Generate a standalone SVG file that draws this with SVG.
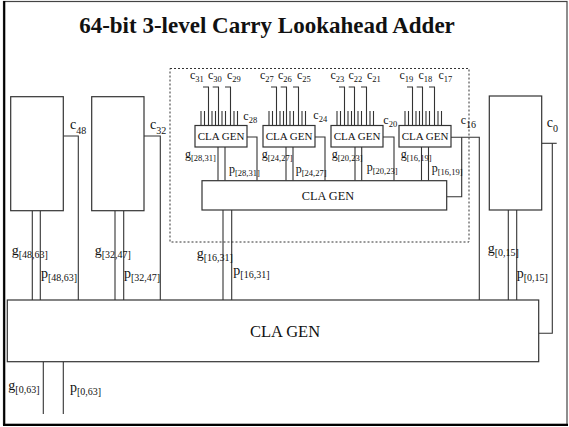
<svg xmlns="http://www.w3.org/2000/svg" width="569" height="427" viewBox="0 0 569 427">
<style>
.ln{stroke:#333;stroke-width:1.1;fill:none}
.box{fill:#fff;stroke:#333;stroke-width:1.2}
.dot{fill:none;stroke:#333;stroke-width:1;stroke-dasharray:2,2}
.t{font-family:"Liberation Serif","Times New Roman",serif;fill:#111}
.lg{font-size:14px}
.sm{font-size:12px}
.s10{font-size:10px}
.s8{font-size:8.5px}
</style>
<rect x="0" y="0" width="569" height="427" fill="#fff"/>
<g id="frame">
<rect x="3.5" y="1.5" width="563.5" height="423" fill="none" stroke="#444" stroke-width="1.2"/>
<line x1="4.3" y1="1" x2="4.3" y2="426" stroke="#000" stroke-width="2"/>
<line x1="3" y1="424.8" x2="568" y2="424.8" stroke="#000" stroke-width="2.2"/>
</g>
<text class="t" x="267" y="33" font-size="23" font-weight="bold" text-anchor="middle">64-bit 3-level Carry Lookahead Adder</text>

<g id="group16-31">
<rect class="dot" x="170" y="68.5" width="299" height="173.5"/>
</g>

<g id="connectors" class="ln">
<!-- block 48-63 -->
<line x1="32.3" y1="210.7" x2="32.3" y2="300"/>
<line x1="40.3" y1="210.7" x2="40.3" y2="300"/>
<polyline points="63.3,136 78.3,136 78.3,300"/>
<!-- block 32-47 -->
<line x1="115" y1="210.7" x2="115" y2="300"/>
<line x1="123.7" y1="210.7" x2="123.7" y2="300"/>
<polyline points="144,136 160.3,136 160.3,300"/>
<!-- block 0-15 -->
<line x1="508.3" y1="210" x2="508.3" y2="300"/>
<line x1="516.7" y1="210" x2="516.7" y2="300"/>
<line x1="541.7" y1="143.3" x2="556.7" y2="143.3"/>
<polyline points="552.3,143.3 552.3,333.3 538.7,333.3"/>
<!-- mid CLA GEN outputs -->
<line x1="223" y1="210" x2="223" y2="300"/>
<line x1="231.7" y1="210" x2="231.7" y2="300"/>
<!-- c16 -->
<polyline points="451,137.3 479.3,137.3 479.3,300"/>
<polyline points="461.7,137.3 461.7,196.7 446.7,196.7"/>
<!-- big CLA GEN outputs -->
<line x1="43.3" y1="361.7" x2="43.3" y2="414"/>
<line x1="63.3" y1="361.7" x2="63.3" y2="414"/>
<!-- small box outputs -->
<line x1="218" y1="147" x2="218" y2="180.7"/>
<line x1="225" y1="147" x2="225" y2="180.7"/>
<polyline points="247,137 257,137 257,180.7"/>
<line x1="286" y1="147" x2="286" y2="180.7"/>
<line x1="293" y1="147" x2="293" y2="180.7"/>
<polyline points="315,137 325,137 325,180.7"/>
<line x1="355" y1="147" x2="355" y2="180.7"/>
<line x1="361.7" y1="147" x2="361.7" y2="180.7"/>
<polyline points="383,137 394,137 394,180.7"/>
<line x1="421.5" y1="147" x2="421.5" y2="180.7"/>
<line x1="428.5" y1="147" x2="428.5" y2="180.7"/>
<!-- small box inputs: box1 x=195 -->
<path d="M201,111V125.5M204.5,111V125.5M212,111V125.5M215.5,111V125.5M222,111V125.5M225.5,111V125.5M234,111V125.5M237.5,111V125.5"/>
<path d="M203,87H208.5V125.5M212.7,87H218.5V125.5M225,87H230.5V125.5"/>
<!-- box2 x=263 -->
<path d="M269,111V125.5M272.5,111V125.5M280,111V125.5M283.5,111V125.5M290,111V125.5M293.5,111V125.5M302,111V125.5M305.5,111V125.5"/>
<path d="M271,87H276.5V125.5M280.7,87H286.5V125.5M293,87H298.5V125.5"/>
<!-- box3 x=331 -->
<path d="M337,111V125.5M340.5,111V125.5M348,111V125.5M351.5,111V125.5M358,111V125.5M361.5,111V125.5M370,111V125.5M373.5,111V125.5"/>
<path d="M339,87H344.5V125.5M348.7,87H354.5V125.5M361,87H366.5V125.5"/>
<!-- box4 x=399 -->
<path d="M405,111V125.5M408.5,111V125.5M416,111V125.5M419.5,111V125.5M426,111V125.5M429.5,111V125.5M438,111V125.5M441.5,111V125.5"/>
<path d="M407,87H412.5V125.5M416.7,87H422.5V125.5M429,87H434.5V125.5"/>
</g>

<g id="cla48">
<rect class="box" x="10.7" y="96.7" width="52.6" height="114"/>
</g>
<g id="cla32">
<rect class="box" x="91.7" y="96.7" width="52.3" height="114"/>
</g>
<g id="cla0">
<rect class="box" x="489.3" y="96" width="52.4" height="114"/>
</g>
<g id="clagen-main">
<rect class="box" x="7.3" y="300" width="531.4" height="61.7"/>
<text class="t" x="285" y="337" font-size="16.5" text-anchor="middle">CLA GEN</text>
</g>
<g id="clagen-mid">
<rect class="box" x="202" y="180.7" width="244.7" height="29.3"/>
<text class="t" x="328" y="200" font-size="12.3" text-anchor="middle">CLA GEN</text>
</g>
<g id="clagen-28">
<rect class="box" x="195" y="125.5" width="52" height="21.5"/>
<text class="t" x="221" y="140" font-size="11" text-anchor="middle">CLA GEN</text>
</g>
<g id="clagen-24">
<rect class="box" x="263" y="125.5" width="52" height="21.5"/>
<text class="t" x="289" y="140" font-size="11" text-anchor="middle">CLA GEN</text>
</g>
<g id="clagen-20">
<rect class="box" x="331" y="125.5" width="52" height="21.5"/>
<text class="t" x="357" y="140" font-size="11" text-anchor="middle">CLA GEN</text>
</g>
<g id="clagen-16">
<rect class="box" x="399" y="125.5" width="52" height="21.5"/>
<text class="t" x="425" y="140" font-size="11" text-anchor="middle">CLA GEN</text>
</g>

<g id="labels">
<text class="t lg" x="70" y="129">c<tspan class="s10" dy="5">48</tspan></text>
<text class="t lg" x="150" y="129">c<tspan class="s10" dy="5">32</tspan></text>
<text class="t sm" x="460.7" y="123.7">c<tspan class="s10" dy="4">16</tspan></text>
<text class="t lg" x="546.7" y="127">c<tspan class="s10" dy="5">0</tspan></text>

<text class="t lg" x="11.7" y="255">g<tspan class="s10" dy="3">[48,63]</tspan></text>
<text class="t lg" x="41" y="278">p<tspan class="s10" dy="3">[48,63]</tspan></text>
<text class="t lg" x="94.7" y="255">g<tspan class="s10" dy="3">[32,47]</tspan></text>
<text class="t lg" x="124" y="278">p<tspan class="s10" dy="3">[32,47]</tspan></text>
<text class="t lg" x="196.7" y="258">g<tspan class="s10" dy="3">[16,31]</tspan></text>
<text class="t lg" x="233.3" y="275">p<tspan class="s10" dy="3">[16,31]</tspan></text>
<text class="t lg" x="487.7" y="253">g<tspan class="s10" dy="3">[0,15]</tspan></text>
<text class="t lg" x="516.7" y="278">p<tspan class="s10" dy="3">[0,15]</tspan></text>
<text class="t lg" x="8.3" y="390">g<tspan class="s10" dy="3">[0,63]</tspan></text>
<text class="t lg" x="70" y="391.5">p<tspan class="s10" dy="3">[0,63]</tspan></text>

<text class="t sm" x="190" y="79">c<tspan class="s8" dy="3">31</tspan></text>
<text class="t sm" x="208" y="79">c<tspan class="s8" dy="3">30</tspan></text>
<text class="t sm" x="227" y="79">c<tspan class="s8" dy="3">29</tspan></text>
<text class="t sm" x="260" y="79">c<tspan class="s8" dy="3">27</tspan></text>
<text class="t sm" x="278" y="79">c<tspan class="s8" dy="3">26</tspan></text>
<text class="t sm" x="297" y="79">c<tspan class="s8" dy="3">25</tspan></text>
<text class="t sm" x="330.5" y="79">c<tspan class="s8" dy="3">23</tspan></text>
<text class="t sm" x="348.5" y="79">c<tspan class="s8" dy="3">22</tspan></text>
<text class="t sm" x="367" y="79">c<tspan class="s8" dy="3">21</tspan></text>
<text class="t sm" x="399.5" y="79">c<tspan class="s8" dy="3">19</tspan></text>
<text class="t sm" x="418.5" y="79">c<tspan class="s8" dy="3">18</tspan></text>
<text class="t sm" x="438.5" y="79">c<tspan class="s8" dy="3">17</tspan></text>

<text class="t sm" x="243.3" y="119.5">c<tspan class="s8" dy="3">28</tspan></text>
<text class="t sm" x="313.3" y="118.7">c<tspan class="s8" dy="3">24</tspan></text>
<text class="t sm" x="383.3" y="124">c<tspan class="s8" dy="3">20</tspan></text>

<text class="t sm" x="185" y="158">g<tspan class="s8" dy="3">[28,31]</tspan></text>
<text class="t sm" x="229" y="173">p<tspan class="s8" dy="3">[28,31]</tspan></text>
<text class="t sm" x="261.7" y="158">g<tspan class="s8" dy="3">[24,27]</tspan></text>
<text class="t sm" x="295.7" y="173">p<tspan class="s8" dy="3">[24,27]</tspan></text>
<text class="t sm" x="331.7" y="158">g<tspan class="s8" dy="3">[20,23]</tspan></text>
<text class="t sm" x="366.7" y="171">p<tspan class="s8" dy="3">[20,23]</tspan></text>
<text class="t sm" x="400.7" y="158">g<tspan class="s8" dy="3">[16,19]</tspan></text>
<text class="t sm" x="431.7" y="172">p<tspan class="s8" dy="3">[16,19]</tspan></text>
</g>
</svg>
